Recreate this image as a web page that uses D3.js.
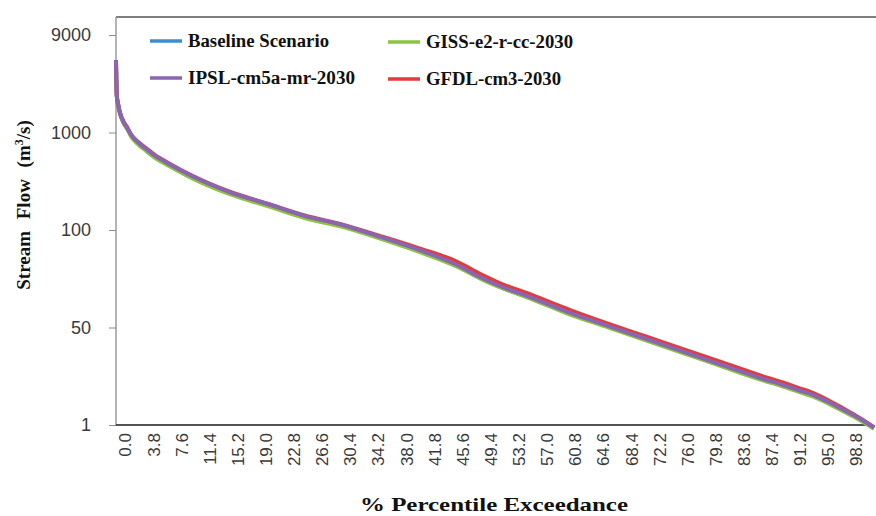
<!DOCTYPE html>
<html><head><meta charset="utf-8">
<script src="https://cdn.jsdelivr.net/npm/d3@7"></script>
<style>body{margin:0;background:#fff}svg{display:block}</style>
</head><body><svg id="c" width="876" height="516"></svg>
<script>
// % percentile exceedance positions (x)
const exceedance = [0,0.1,0.3,0.5,1,1.5,2,3,4,5,7,10,15,20,25,30,35,40,45,48,50,55,60,65,70,75,80,85,88,90,92,94,96,98,100];
// stream flow (m3/s) per scenario
const baseline = [5000,2280,1820,1560,1245,1085,925,765,662,575,463,350,239,180,136,110,94.3,86.2,77.5,71.2,67.7,61.2,55,50.2,30.5,18.1,10.7,6.35,4.8,3.92,3.2,2.42,1.76,1.28,0.88];
const giss     = [5050,2300,1830,1560,1240,1075,905,745,645,560,452,340,233,176,132,107,93.8,85.6,77,70.9,67.5,61,54.7,49.9,29.6,17.6,10.4,6.2,4.68,3.82,3.12,2.36,1.72,1.25,0.86];
const ipsl     = [5130,2330,1860,1590,1270,1106,942,780,677,588,475,358,245,185,139,112,95,86.8,78,71.6,68.1,61.6,55.4,50.5,31.5,18.7,11.1,6.59,4.98,4.07,3.33,2.52,1.83,1.32,0.9];
const gfdl     = [5130,2330,1860,1590,1275,1112,950,790,688,597,482,362,247,186,140,113,95.6,87.8,79.8,73.3,69.6,62.8,56.5,51.3,34.5,20.6,12.3,7.3,5.5,4.45,3.6,2.68,1.92,1.36,0.92];
const seriesNames = ["Baseline Scenario","GISS-e2-r-cc-2030","IPSL-cm5a-mr-2030","GFDL-cm3-2030"];
const xTickLabels = ["0.0","3.8","7.6","11.4","15.2","19.0","22.8","26.6","30.4","34.2","38.0","41.8","45.6","49.4","53.2","57.0","60.8","64.6","68.4","72.2","76.0","79.8","83.6","87.4","91.2","95.0","98.8"];
const yTickValues = [1,50,100,1000,9000];

const colors = {"Baseline Scenario":"#3d8ccc","GISS-e2-r-cc-2030":"#8cc541","IPSL-cm5a-mr-2030":"#8a66b0","GFDL-cm3-2030":"#e43a3c"};
const seriesData = {"Baseline Scenario":baseline,"GISS-e2-r-cc-2030":giss,"IPSL-cm5a-mr-2030":ipsl,"GFDL-cm3-2030":gfdl};

const svg = d3.select("#c");
const L = 116, R = 874, T = 17, B = 425;
const SERIF = "'Liberation Serif', 'Times New Roman', serif";
const SANS = "'Liberation Sans', Arial, sans-serif";

const x = d3.scaleLinear().domain([0,100]).range([L, R]);
const xCat = d3.scalePoint().domain(xTickLabels).range([125, 856]);
const y = d3.scaleLog().domain(yTickValues).range([B, 327.5, 230, 132.5, 35]);

// frame
svg.append("line").attr("x1",L).attr("x2",876).attr("y1",T).attr("y2",T)
  .attr("stroke","#7f7f7f").attr("stroke-width",2);

// y axis
const yAxis = d3.axisLeft(y).tickValues(yTickValues).tickSize(7).tickFormat(d3.format("d"));
const gy = svg.append("g").attr("transform",`translate(${L},0)`).call(yAxis);
gy.select(".domain").attr("stroke","#8c8c8c").attr("stroke-width",1.3).attr("d",`M0,${T}V${B}`);
gy.selectAll(".tick line").attr("stroke","#8c8c8c");
gy.selectAll(".tick text").attr("x",-25).attr("font-family",SANS)
  .attr("font-size",18).attr("fill","#3a3a3a");

// x axis (category labels)
const xAxis = d3.axisBottom(xCat).tickSize(0).tickPadding(0);
const gx = svg.append("g").attr("transform",`translate(0,${B})`).call(xAxis);
gx.select(".domain").attr("stroke","#1a1a1a").attr("stroke-width",1.3).attr("d",`M${L},0H870`);
gx.selectAll(".tick text").attr("transform","rotate(-90)").attr("text-anchor","end")
  .attr("x",-8).attr("y",0).attr("dy","0.35em")
  .attr("font-family",SANS).attr("font-size",17).attr("fill","#3a3a3a");

// lines
const line = d3.line().x((d,i)=>x(exceedance[i])).y(d=>y(d)).curve(d3.curveMonotoneX);
const drawOrder = ["Baseline Scenario","GISS-e2-r-cc-2030","GFDL-cm3-2030","IPSL-cm5a-mr-2030"];
svg.append("g").selectAll("path").data(drawOrder).join("path")
  .attr("d",n=>line(seriesData[n])).attr("fill","none")
  .attr("stroke",n=>colors[n]).attr("stroke-width",4).attr("stroke-linejoin","round");

// legend
const legPos = [[150,41],[388,42],[150,78],[388,79]];
const legLen = [141,147,167,135];
const lg = svg.append("g");
seriesNames.forEach((n,i)=>{
  const [lx,ly] = legPos[i];
  lg.append("line").attr("x1",lx).attr("x2",lx+32).attr("y1",ly).attr("y2",ly)
    .attr("stroke",colors[n]).attr("stroke-width",3.5);
  lg.append("text").attr("x",lx+38).attr("y",ly).attr("dy","0.35em")
    .attr("font-family",SERIF).attr("font-weight","bold")
    .attr("font-size",18).attr("fill","#111")
    .attr("textLength",legLen[i]).attr("lengthAdjust","spacingAndGlyphs").text(n);
});

// axis titles
const yt = svg.append("text").attr("transform","translate(30,205) rotate(-90)").attr("text-anchor","middle")
  .attr("font-family",SERIF).attr("font-weight","bold")
  .attr("font-size",19).attr("fill","#111").attr("word-spacing","7px");
yt.append("tspan").text("Stream Flow (m");
yt.append("tspan").attr("font-size",12).attr("dy",-7).text("3");
yt.append("tspan").attr("dy",7).text("/s)");

svg.append("text").attr("x",494).attr("y",511).attr("text-anchor","middle")
  .attr("font-family",SERIF).attr("font-weight","bold")
  .attr("font-size",19).attr("fill","#111")
  .attr("textLength",268).attr("lengthAdjust","spacingAndGlyphs").text("% Percentile Exceedance");
</script></body></html>
